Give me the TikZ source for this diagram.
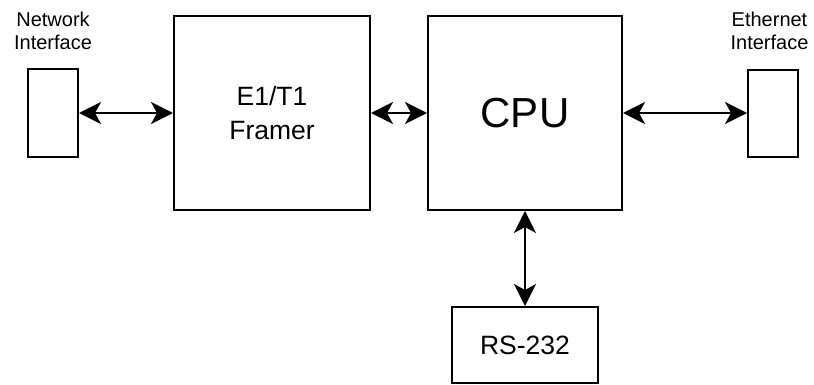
\documentclass[tikz,border=0pt]{standalone}
\usepackage{fontspec}
\setmainfont{Liberation Sans}
\usetikzlibrary{arrows.meta}
\begin{document}
\begin{tikzpicture}[x=1pt,y=-1pt,
  blk/.style={draw=black,line width=2pt,minimum width=#1,inner sep=0pt,align=center},
  conn/.style={line width=2pt,{Stealth[length=22pt,width=22pt,inset=6pt]}-{Stealth[length=22pt,width=22pt,inset=6pt]}},
  lbl/.style={align=center,font=\fontsize{20}{23}\selectfont,inner sep=0pt}]
\fill[white] (0,0) rectangle (814,385);
\useasboundingbox (0,0) rectangle (814,385);
\node[blk=50pt,minimum height=88pt] (net) at (53,113) {};
\node[blk=196pt,minimum height=194pt,font=\fontsize{26.5}{34}\selectfont] (framer) at (272,113) {E1/T1\\Framer};
\node[blk=194pt,minimum height=194pt,font=\fontsize{42}{48}\selectfont] (cpu) at (525,113) {CPU};
\node[blk=50pt,minimum height=87pt] (eth) at (773,113.5) {};
\node[blk=146pt,minimum height=76pt,font=\fontsize{26.5}{30}\selectfont] (rs) at (525,345) {RS-232};
\node[lbl] (netl) at (53,31) {Network\\Interface};
\node[lbl] (ethl) at (769.5,31) {Ethernet\\Interface};
\draw[conn] (net.east) -- (framer.west);
\draw[conn] (framer.east) -- (cpu.west);
\draw[conn] (cpu.east) -- (eth.west |- cpu.east);
\draw[conn] (cpu.south) -- (rs.north);
\end{tikzpicture}
\end{document}
